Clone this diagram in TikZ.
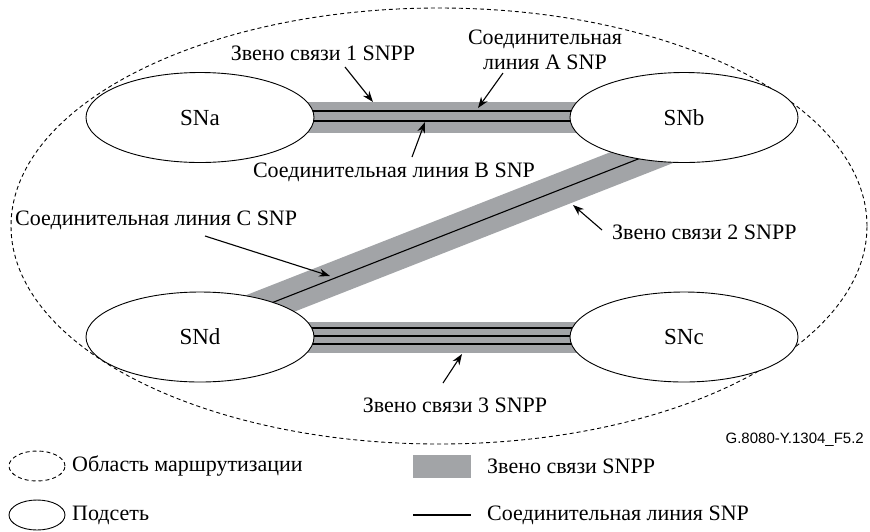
\documentclass[tikz,border=0pt]{standalone}
\usepackage{fontspec}
\setmainfont{Liberation Serif}
\newfontfamily\labelsans{Liberation Sans}
\usetikzlibrary{shapes.geometric,arrows.meta}
\definecolor{bandgray}{RGB}{162,164,167}
\tikzset{
  subnet/.style={draw=black, line width=0.9pt, fill=white, ellipse, inner sep=0pt, minimum width=228pt, minimum height=90pt, font=\fontsize{23}{27}\selectfont},
  routing/.style={draw=black, line width=0.9pt, dash pattern=on 4pt off 3pt, ellipse, inner sep=0pt},
  band/.style={draw=bandgray, line width=31pt},
  snpline/.style={draw=black, line width=1.8pt},
  thinsnp/.style={draw=black, line width=1.1pt},
  lbl/.style={font=\fontsize{22}{25}\selectfont, inner sep=0pt},
  arr/.style={draw=black, line width=1.1pt, -{Stealth[length=11pt,width=8pt]}},
}
\begin{document}
\begin{tikzpicture}[x=1pt,y=-1pt]
\useasboundingbox (0,0) rectangle (870,531);
% routing area
\node[routing, minimum width=856pt, minimum height=436pt] (RA) at (439,226) {};
% subnet centres
\coordinate (ca) at (200,117.5);
\coordinate (cb) at (684,117.5);
\coordinate (cd) at (200,337);
\coordinate (cc) at (684,337);
\coordinate (d1) at (200,331);
\coordinate (d2) at (684,141);
% link 1
\draw[band] (ca) -- (cb);
\draw[snpline] ([yshift=6.5pt]ca) -- ([yshift=6.5pt]cb);
\draw[snpline] ([yshift=-3.5pt]ca) -- ([yshift=-3.5pt]cb);
% link 3
\draw[band] (cd) -- (cc);
\draw[snpline] ([yshift=9pt]cd) -- ([yshift=9pt]cc);
\draw[snpline] ([yshift=1pt]cd) -- ([yshift=1pt]cc);
\draw[snpline] ([yshift=-7pt]cd) -- ([yshift=-7pt]cc);
% link 2
\draw[band, line width=33pt] (d1) -- (d2);
\draw[thinsnp] (d1) -- (d2);
% subnets
\node[subnet] (SNa) at (ca) {SNa};
\node[subnet] (SNb) at (cb) {SNb};
\node[subnet] (SNd) at (cd) {SNd};
\node[subnet] (SNc) at (cc) {SNc};
% labels
\node[lbl] (L1) at (323,53) {Звено связи 1 SNPP};
\node[lbl, align=center] (LA) at (545,50) {Соединительная\\линия A SNP};
\node[lbl] (LB) at (394,172) {Соединительная линия B SNP};
\node[lbl, anchor=west] (LC) at (15,220) {Соединительная линия C SNP};
\node[lbl, anchor=west] (L2) at (612,232) {Звено связи 2 SNPP};
\node[lbl] (L3) at (455,405) {Звено связи 3 SNPP};
\node[font=\labelsans\fontsize{15}{18}\selectfont, anchor=east, inner sep=0pt] (FIG) at (864,440) {G.8080-Y.1304\_F5.2};
% arrows
\coordinate (a1s) at (345,67);  \coordinate (a1e) at (373,102);
\coordinate (aAs) at (503,73);  \coordinate (aAe) at (478,108);
\coordinate (aBs) at (412,157); \coordinate (aBe) at (425,122);
\coordinate (aCs) at (205,236); \coordinate (aCe) at (330,276);
\coordinate (a2s) at (602,230); \coordinate (a2e) at (573,205);
\coordinate (a3s) at (443,383); \coordinate (a3e) at (462,354);
\draw[arr] (a1s) -- (a1e);
\draw[arr] (aAs) -- (aAe);
\draw[arr] (aBs) -- (aBe);
\draw[arr] (aCs) -- (aCe);
\draw[arr] (a2s) -- (a2e);
\draw[arr] (a3s) -- (a3e);
% legend
\node[routing, minimum width=56pt, minimum height=30pt] (LgRA) at (37,466) {};
\node[lbl, anchor=west] (LgRAt) at (72,466) {Область маршрутизации};
\node[draw=black, line width=0.9pt, ellipse, inner sep=0pt, minimum width=56pt, minimum height=30pt] (LgSN) at (37,515) {};
\node[lbl, anchor=west] (LgSNt) at (72,515) {Подсеть};
\node[fill=bandgray, inner sep=0pt, minimum width=58pt, minimum height=23pt] (LgBand) at (442,466) {};
\node[lbl, anchor=west] (LgBandt) at (487,466) {Звено связи SNPP};
\coordinate (lg1) at (413,515); \coordinate (lg2) at (471,515);
\draw[snpline] (lg1) -- (lg2);
\node[lbl, anchor=west] (LgLinet) at (487,515) {Соединительная линия SNP};
\end{tikzpicture}
\end{document}
